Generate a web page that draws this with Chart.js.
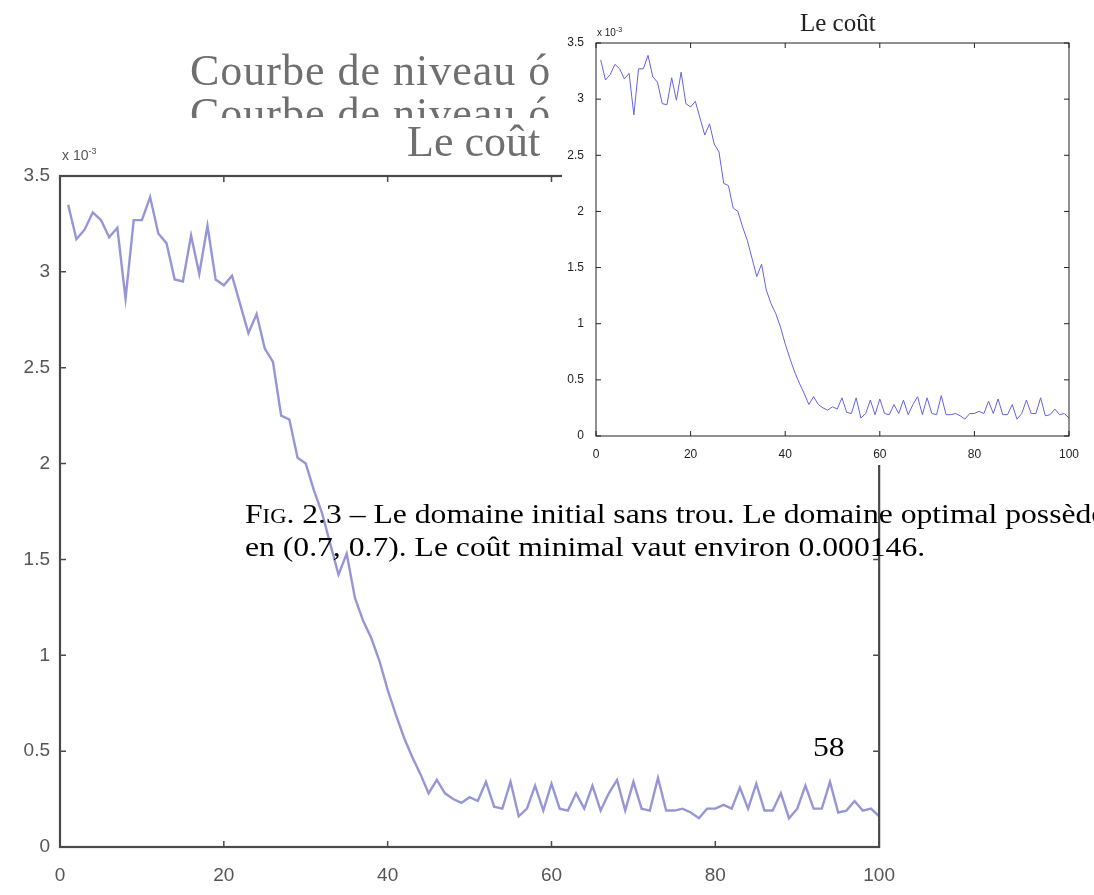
<!DOCTYPE html>
<html>
<head>
<meta charset="utf-8">
<script src="https://cdn.jsdelivr.net/npm/chart.js@4.4.1/dist/chart.umd.min.js"></script>
<style>
  html, body { margin: 0; padding: 0; background: #fff; }
  body { width: 1094px; height: 895px; position: relative; overflow: hidden; }
  .abs { position: absolute; white-space: nowrap; }
  #big { left: 0; top: 0; filter: blur(0.7px); z-index: 1; }
  #small { left: 562px; top: 0; background: #fff; z-index: 3; }
  .cm { font-family: 'Liberation Serif', serif; color: #6f6f6f; filter: blur(0.6px); line-height: 1; z-index: 2; }
  .cap { font-family: 'Liberation Serif', serif; color: #000; font-size: 28px; line-height: 1; z-index: 4;
         transform: scaleX(1.13); transform-origin: left top; }
  .sc { font-variant: small-caps; }
</style>
</head>
<body>
<canvas id="big" class="abs" width="904" height="895"></canvas>

<!-- titres de la figure du fond, en partie cachés -->
<div class="abs cm" style="left:190px; top:49px; font-size:44px; letter-spacing:1px;">Courbe de niveau ó</div>
<div class="abs" style="left:0; top:90px; width:562px; height:28px; overflow:hidden; z-index:2;">
  <div class="abs cm" style="left:190px; top:2px; font-size:44px; letter-spacing:1px;">Courbe de niveau ó</div>
</div>
<div class="abs cm" style="left:407px; top:120px; font-size:44px;">Le coût</div>
<div class="abs" style="left:62px; top:146px; font: 14px 'Liberation Sans', sans-serif; color:#555; filter: blur(0.6px); z-index:2;">x 10<sup style="font-size:9px;">-3</sup></div>

<canvas id="small" class="abs" width="532" height="465"></canvas>
<div class="abs" style="left:597px; top:26px; font: 10px 'Liberation Sans', sans-serif; color:#222; z-index:4;">x 10<sup style="font-size:7px;">-3</sup></div>
<div class="abs" style="left:800px; top:10px; font: 25px 'Liberation Serif', serif; color:#222; z-index:4; line-height:1;">Le coût</div>

<div class="abs cap" style="left:245px; top:500px;"><span>F</span><span class="sc">ig</span>. 2.3 – Le domaine initial sans trou. Le domaine optimal possède</div>
<div class="abs cap" style="left:245px; top:533px;">en (0.7, 0.7). Le coût minimal vaut environ 0.000146.</div>
<div class="abs cap" style="left:813px; top:733px;">58</div>

<script>
// coût à chaque itération (en unités de 10^-3)
const iterations = Array.from({ length: 100 }, (_, i) => i + 1);
const cost = [
  3.35, 3.17, 3.22, 3.31, 3.27, 3.18, 3.23, 2.86, 3.27, 3.27,
  3.39, 3.20, 3.15, 2.96, 2.95, 3.19, 2.99, 3.24, 2.96, 2.93,
  2.98, 2.83, 2.68, 2.78, 2.60, 2.53, 2.25, 2.23, 2.03, 2.00,
  1.86, 1.74, 1.58, 1.42, 1.53, 1.30, 1.18, 1.09, 0.97, 0.82,
  0.69, 0.57, 0.47, 0.38, 0.28, 0.35, 0.28, 0.25, 0.23, 0.26,
  0.24, 0.34, 0.21, 0.20, 0.34, 0.16, 0.20, 0.32, 0.19, 0.33,
  0.20, 0.19, 0.28, 0.20, 0.32, 0.19, 0.28, 0.35, 0.19, 0.34,
  0.20, 0.19, 0.36, 0.19, 0.19, 0.20, 0.18, 0.15, 0.20, 0.20,
  0.22, 0.20, 0.31, 0.20, 0.33, 0.19, 0.19, 0.28, 0.15, 0.20,
  0.32, 0.20, 0.20, 0.34, 0.18, 0.19, 0.24, 0.19, 0.20, 0.16
];
const xTicks = [0, 20, 40, 60, 80, 100];
const yTicks = [0, 0.5, 1, 1.5, 2, 2.5, 3, 3.5];

const points = iterations.map((it, i) => ({ x: it, y: cost[i] }));

// cadre façon matlab avec graduations vers l'intérieur
const frameTicks = {
  id: 'frameTicks',
  afterDatasetsDraw(chart, args, opts) {
    const { ctx, chartArea: a, scales: { x, y } } = chart;
    ctx.save();
    ctx.strokeStyle = opts.color;
    ctx.lineWidth = opts.width;
    ctx.strokeRect(a.left, a.top, a.right - a.left, a.bottom - a.top);
    ctx.lineWidth = opts.tickWidth;
    ctx.beginPath();
    x.ticks.forEach(t => {
      const px = x.getPixelForValue(t.value);
      ctx.moveTo(px, a.bottom); ctx.lineTo(px, a.bottom - opts.len);
      ctx.moveTo(px, a.top); ctx.lineTo(px, a.top + opts.len);
    });
    y.ticks.forEach(t => {
      const py = y.getPixelForValue(t.value);
      ctx.moveTo(a.left, py); ctx.lineTo(a.left + opts.len, py);
      ctx.moveTo(a.right, py); ctx.lineTo(a.right - opts.len, py);
    });
    ctx.stroke();
    ctx.restore();
  }
};

function makeChart(id, o) {
  return new Chart(document.getElementById(id), {
    type: 'line',
    data: {
      datasets: [{
        data: points,
        borderColor: o.lineColor,
        borderWidth: o.lineWidth,
        pointRadius: 0,
        tension: 0,
        fill: false
      }]
    },
    options: {
      responsive: false,
      animation: false,
      events: [],
      layout: { padding: o.padding },
      plugins: {
        legend: { display: false },
        tooltip: { enabled: false },
        title: { display: false },
        frameTicks: o.frame
      },
      scales: {
        x: {
          type: 'linear',
          min: 0,
          max: 100,
          afterBuildTicks: s => { s.ticks = xTicks.map(v => ({ value: v })); },
          afterFit: s => { s.height = o.xHeight; },
          border: { display: false },
          grid: { display: false },
          ticks: { color: o.textColor, padding: o.xPad, maxRotation: 0, callback: v => String(v),
                   font: { family: 'Liberation Sans', size: o.fontSize } }
        },
        y: {
          min: 0,
          max: 3.5,
          afterBuildTicks: s => { s.ticks = yTicks.map(v => ({ value: v })); },
          afterFit: s => { s.width = o.yWidth; },
          border: { display: false },
          grid: { display: false },
          ticks: { color: o.textColor, padding: o.yPad, callback: v => String(v),
                   font: { family: 'Liberation Sans', size: o.fontSize } }
        }
      }
    },
    plugins: [frameTicks]
  });
}

// grande figure floue du fond
makeChart('big', {
  lineColor: '#9696d6',
  lineWidth: 2.4,
  padding: { top: 176, right: 14, left: 0, bottom: 0 },
  frame: { color: '#4a4a4a', width: 2.2, tickWidth: 1.5, len: 6 },
  textColor: '#555',
  fontSize: 19,
  xHeight: 48,
  yWidth: 60,
  xPad: 9,
  yPad: 2
});

// petite figure nette en haut à droite
makeChart('small', {
  lineColor: '#6464dc',
  lineWidth: 1,
  padding: { top: 43, right: 25, left: 0, bottom: 0 },
  frame: { color: '#222', width: 1, tickWidth: 1, len: 5 },
  textColor: '#222',
  fontSize: 12,
  xHeight: 29,
  yWidth: 34,
  xPad: 3,
  yPad: 4
});
</script>
</body>
</html>
